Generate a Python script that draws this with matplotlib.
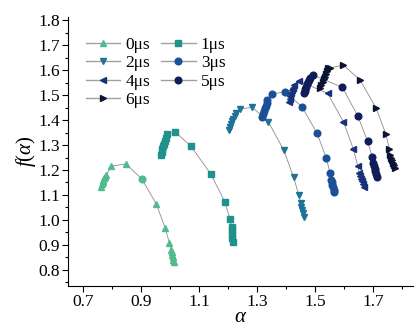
"""Multifractal spectrum f(alpha) for delay times 0-6 us."""
import matplotlib
matplotlib.use("Agg")
import matplotlib.pyplot as plt
from matplotlib.ticker import MultipleLocator, FormatStrFormatter

plt.rcParams["font.family"] = ["Liberation Serif", "DejaVu Serif"]
plt.rcParams["mathtext.fontset"] = "custom"
plt.rcParams["mathtext.it"] = "Liberation Serif:italic"
plt.rcParams["mathtext.rm"] = "Liberation Serif"

LABELS = ["0μs", "1μs", "2μs", "3μs", "4μs", "5μs", "6μs"]
MARKERS = ["^", "s", "v", "o", "<", "o", ">"]
COLORS = ["#52bb8c", "#21918c", "#1f7298", "#1b4f97", "#173278", "#111d5a", "#0b1434"]

alpha_0 = [0.763, 0.765, 0.767, 0.770, 0.773, 0.776, 0.780, 0.797, 0.848, 0.902,
           0.952, 0.982, 0.997, 1.003, 1.005, 1.007, 1.009, 1.011, 1.012]
f_0 = [1.133, 1.142, 1.150, 1.158, 1.166, 1.173, 1.180, 1.216, 1.224, 1.164,
       1.064, 0.969, 0.909, 0.880, 0.870, 0.860, 0.850, 0.840, 0.833]
circle_idx_0 = 9  # one point of the 0 us series is drawn as a circle

alpha_1 = [0.969, 0.971, 0.973, 0.976, 0.979, 0.982, 0.986, 0.988, 1.017, 1.071,
           1.140, 1.188, 1.206, 1.212, 1.213, 1.213, 1.214, 1.215]
f_1 = [1.260, 1.272, 1.284, 1.296, 1.306, 1.316, 1.328, 1.344, 1.352, 1.296,
       1.183, 1.073, 1.003, 0.973, 0.958, 0.943, 0.928, 0.913]

alpha_2 = [1.203, 1.206, 1.210, 1.214, 1.218, 1.222, 1.226, 1.239, 1.283, 1.338,
           1.391, 1.425, 1.443, 1.449, 1.452, 1.454, 1.457, 1.460]
f_2 = [1.360, 1.372, 1.384, 1.396, 1.406, 1.416, 1.427, 1.444, 1.451, 1.393,
       1.280, 1.171, 1.100, 1.067, 1.053, 1.040, 1.026, 1.013]

alpha_3 = [1.317, 1.320, 1.323, 1.326, 1.329, 1.332, 1.334, 1.349, 1.397, 1.454,
           1.506, 1.538, 1.551, 1.555, 1.557, 1.559, 1.561, 1.563, 1.565]
f_3 = [1.413, 1.425, 1.436, 1.447, 1.458, 1.469, 1.480, 1.504, 1.513, 1.453,
       1.347, 1.247, 1.187, 1.160, 1.150, 1.140, 1.130, 1.120, 1.113]

alpha_4 = [1.408, 1.411, 1.414, 1.417, 1.420, 1.423, 1.425, 1.443, 1.542, 1.597,
           1.631, 1.646, 1.652, 1.655, 1.658, 1.661, 1.664, 1.668]
f_4 = [1.473, 1.485, 1.497, 1.508, 1.519, 1.530, 1.540, 1.557, 1.507, 1.393,
       1.284, 1.216, 1.187, 1.176, 1.165, 1.154, 1.143, 1.133]

alpha_5 = [1.460, 1.463, 1.466, 1.469, 1.472, 1.475, 1.478, 1.480, 1.492, 1.593,
           1.646, 1.680, 1.696, 1.700, 1.702, 1.704, 1.706, 1.708, 1.711]
f_5 = [1.507, 1.516, 1.525, 1.534, 1.543, 1.551, 1.559, 1.567, 1.580, 1.531,
       1.417, 1.316, 1.252, 1.227, 1.216, 1.205, 1.194, 1.184, 1.173]

alpha_6 = [1.517, 1.521, 1.525, 1.529, 1.533, 1.537, 1.541, 1.545, 1.551, 1.597,
           1.654, 1.709, 1.743, 1.755, 1.757, 1.760, 1.764, 1.768, 1.771, 1.775]
f_6 = [1.527, 1.539, 1.551, 1.563, 1.574, 1.585, 1.596, 1.607, 1.609, 1.620,
       1.560, 1.449, 1.344, 1.284, 1.260, 1.250, 1.239, 1.228, 1.218, 1.207]

ALPHAS = [alpha_0, alpha_1, alpha_2, alpha_3, alpha_4, alpha_5, alpha_6]
FS = [f_0, f_1, f_2, f_3, f_4, f_5, f_6]

LINE_COLOR = "#8c8c8c"
MS = 4.8


def main() -> None:
    fig = plt.figure(figsize=(4.17, 3.30), dpi=100)
    ax = fig.add_axes([0.164, 0.133, 0.826, 0.815])

    handles = []
    for i, (a, f) in enumerate(zip(ALPHAS, FS)):
        ax.plot(a, f, color=LINE_COLOR, lw=0.6, zorder=1)
        if i == 0:
            keep = [k for k in range(len(a)) if k != circle_idx_0]
            ax.plot([a[k] for k in keep], [f[k] for k in keep], ls="none",
                    marker=MARKERS[i], ms=MS, color=COLORS[i], mec=COLORS[i], zorder=2)
            ax.plot([a[circle_idx_0]], [f[circle_idx_0]], ls="none", marker="o",
                    ms=MS, color=COLORS[i], zorder=2)
        else:
            ax.plot(a, f, ls="none", marker=MARKERS[i], ms=MS, color=COLORS[i],
                    mec=COLORS[i], zorder=2)
        h, = ax.plot([], [], color="#a0a0a0", lw=1.0, marker=MARKERS[i], ms=MS,
                     mfc=COLORS[i], mec=COLORS[i], label=LABELS[i])
        handles.append(h)

    ax.set_xlim(0.649, 1.836)
    ax.set_ylim(0.735, 1.812)

    ax.xaxis.set_minor_locator(MultipleLocator(0.1))
    ax.yaxis.set_major_locator(MultipleLocator(0.1))
    ax.yaxis.set_minor_locator(MultipleLocator(0.05))
    ax.set_xticks([0.7, 0.9, 1.1, 1.3, 1.5, 1.7])
    ax.xaxis.set_major_formatter(FormatStrFormatter("%.1f"))
    ax.yaxis.set_major_formatter(FormatStrFormatter("%.1f"))

    ax.tick_params(which="both", direction="out", labelsize=12.5, width=0.8)
    ax.tick_params(which="major", length=4, pad=2)
    ax.tick_params(which="minor", length=2.5)
    for side in ("top", "right"):
        ax.spines[side].set_visible(False)

    ax.set_xlabel(r"$\alpha$", fontsize=15, labelpad=-2)
    ax.set_ylabel(r"$f(\alpha)$", fontsize=15, labelpad=0)

    # row-major legend order: 0 1 / 2 3 / 4 5 / 6
    order = [0, 2, 4, 6, 1, 3, 5]
    ax.legend(handles=[handles[k] for k in order], ncol=2, frameon=False,
              fontsize=12.5, loc="upper left", bbox_to_anchor=(0.02, 0.965),
              handlelength=2.0, handletextpad=0.3, columnspacing=0.6,
              labelspacing=0.12, borderaxespad=0.2)

    fig.savefig("out.png", dpi=100)
    plt.close(fig)


if __name__ == "__main__":
    main()
